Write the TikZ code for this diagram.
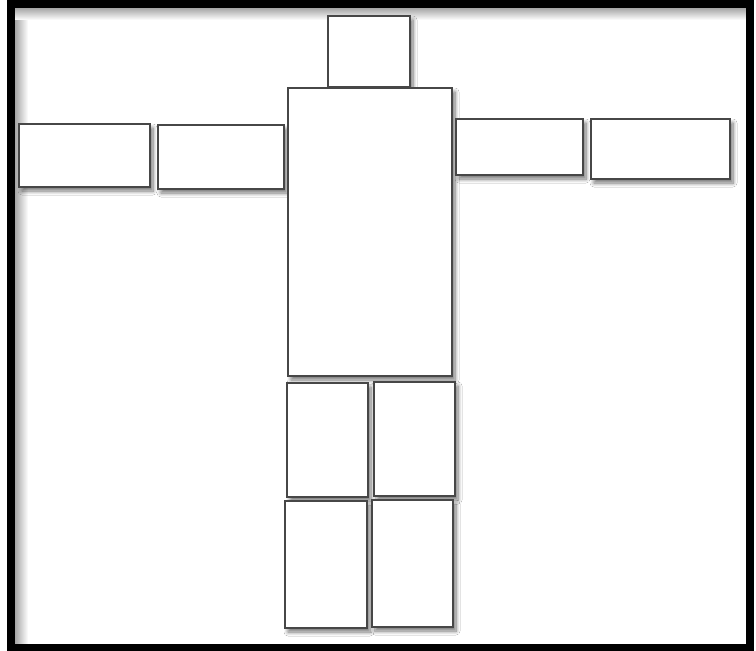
\documentclass[tikz,border=0pt]{standalone}
\usetikzlibrary{shadows.blur}
\begin{document}
\begin{tikzpicture}[x=1pt,y=-1pt,
  part/.style={draw=black!72,line width=2pt,fill=white,inner sep=0pt,anchor=north west,
    blur shadow={shadow xshift=3pt,shadow yshift=-4pt,shadow blur radius=4pt,shadow blur steps=8,shadow opacity=55}}]
\useasboundingbox (0,0) rectangle (756,651);
\fill[white] (0,0) rectangle (756,651);
% inner shading of frame
\shade[top color=black!35,bottom color=white] (15,8) rectangle (746,20);
\shade[left color=black!35,right color=white] (15,20) rectangle (28,644);
% boxes
\node[part,minimum width=131pt,minimum height=63pt] (larmo) at (18,123) {};
\node[part,minimum width=126pt,minimum height=64pt] (larmi) at (157,124) {};
\node[part,minimum width=82pt,minimum height=71pt] (head) at (327,15) {};
\node[part,minimum width=164pt,minimum height=288pt] (torso) at (287,87) {};
\node[part,minimum width=127pt,minimum height=56pt] (rarmi) at (455,118) {};
\node[part,minimum width=139pt,minimum height=60pt] (rarmo) at (590,118) {};
\node[part,minimum width=81pt,minimum height=114pt] (lul) at (286,382) {};
\node[part,minimum width=81pt,minimum height=114pt] (rul) at (373,381) {};
\node[part,minimum width=82pt,minimum height=127pt] (lll) at (284,500) {};
\node[part,minimum width=81pt,minimum height=127pt] (rll) at (371,499) {};
% frame
\draw[black,line width=8pt] (11,4) rectangle (750,647.5);
\end{tikzpicture}
\end{document}
